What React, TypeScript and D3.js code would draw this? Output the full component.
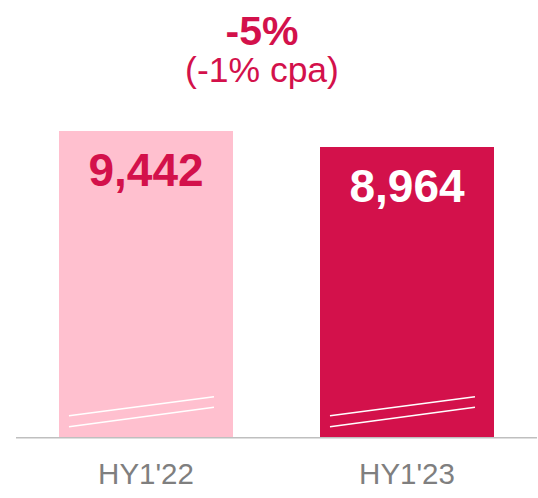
import React from "react";
import * as d3 from "d3";

const categories = ["HY1'22", "HY1'23"];
const values = [9442, 8964];
const valueLabels = ["9,442", "8,964"];
const changeLabel = "-5%";
const cagrLabel = "(-1% cpa)";
const barColors = ["#FFC0CF", "#D3114B"];
const labelColors = ["#D3114B", "#FFFFFF"];
const axisMin = 280;

export default function App() {
  const width = 538;
  const height = 498;
  const baseline = 437.7;

  const x = d3.scaleBand<string>().domain(categories).range([59, 494]).paddingInner(1 / 3).paddingOuter(0);
  const y = d3.scaleLinear().domain([axisMin, values[0]]).range([baseline, 131]);

  const red = "#D3114B";

  return (
    <svg width={width} height={height} style={{ position: "absolute", left: 0, top: 0, fontFamily: "Liberation Sans, Arial, sans-serif" }}>
      <rect width={width} height={height} fill="#fff" />
      {categories.map((c, i) => {
        const bx = x(c)!;
        const bw = x.bandwidth();
        const top = y(values[i]);
        const cx = bx + bw / 2;
        return (
          <g key={c}>
            <rect x={bx} y={top} width={bw} height={baseline - top} fill={barColors[i]} />
            <line x1={bx + 10} y1={baseline - 22} x2={bx + 155} y2={baseline - 41} stroke="#fff" strokeWidth={1.5} />
            <line x1={bx + 10} y1={baseline - 11} x2={bx + 155} y2={baseline - 30.5} stroke="#fff" strokeWidth={1.5} />
            <text x={cx} y={top + 55} textAnchor="middle" fontSize={46} fontWeight="bold" fill={labelColors[i]}>
              {valueLabels[i]}
            </text>
            <text x={cx} y={484} textAnchor="middle" fontSize={29.5} fill="#7F7F7F">
              {c}
            </text>
          </g>
        );
      })}
      <line x1={16} x2={537} y1={baseline} y2={baseline} stroke="#BFBFBF" strokeWidth={1.5} />
      <text x={262} y={44.5} textAnchor="middle" fontSize={41} fontWeight="bold" fill={red}>
        {changeLabel}
      </text>
      <text x={262} y={82} textAnchor="middle" fontSize={35.5} fill={red}>
        {cagrLabel}
      </text>
    </svg>
  );
}
